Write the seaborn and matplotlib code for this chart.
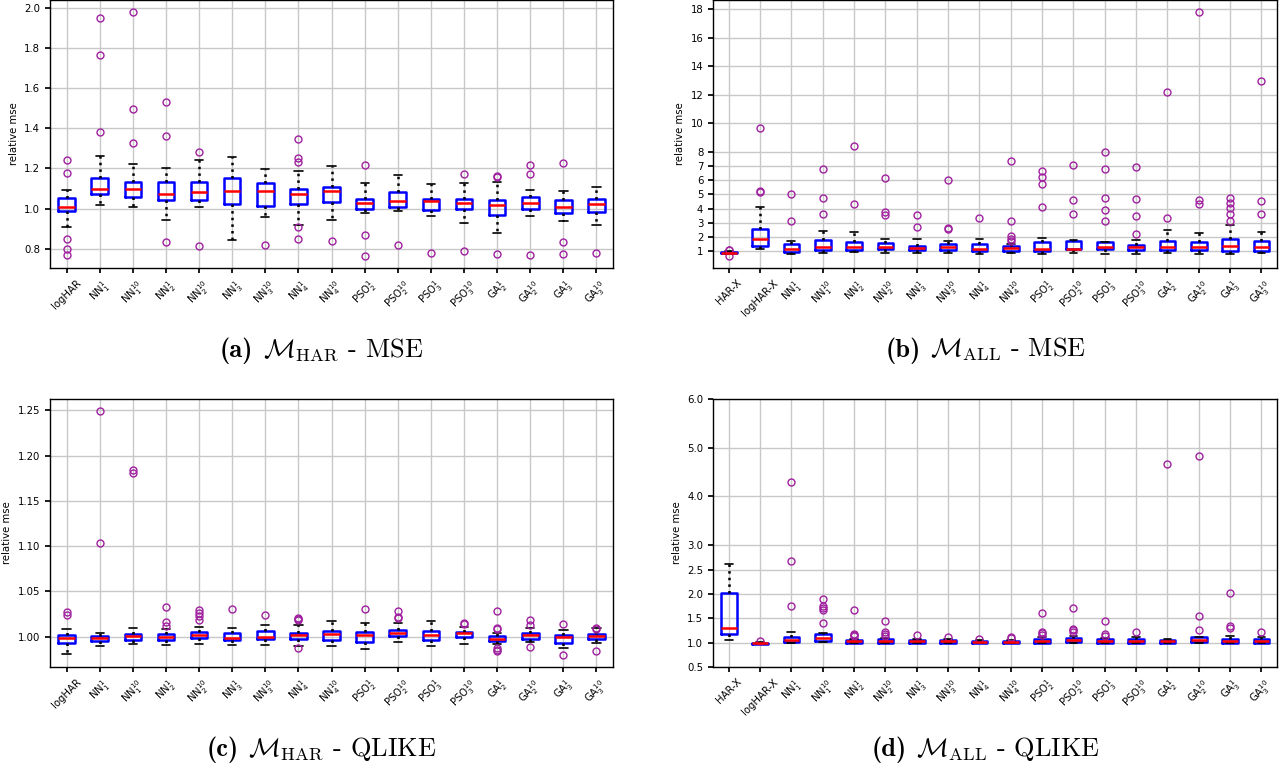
import matplotlib
matplotlib.use("Agg")
import matplotlib.pyplot as plt
from matplotlib.offsetbox import AnchoredOffsetbox, HPacker, TextArea
import seaborn as sns

# box labels
har_labels = ["logHAR",
              r"NN$_{1}^{1}$", r"NN$_{1}^{10}$", r"NN$_{2}^{1}$", r"NN$_{2}^{10}$",
              r"NN$_{3}^{1}$", r"NN$_{3}^{10}$", r"NN$_{4}^{1}$", r"NN$_{4}^{10}$",
              r"PSO$_{2}^{1}$", r"PSO$_{2}^{10}$", r"PSO$_{3}^{1}$", r"PSO$_{3}^{10}$",
              r"GA$_{2}^{1}$", r"GA$_{2}^{10}$", r"GA$_{3}^{1}$", r"GA$_{3}^{10}$"]
all_labels = ["HAR-X", "logHAR-X"] + har_labels[1:]

# (a) M_HAR - MSE
a_q1 = [0.988, 1.071, 1.056, 1.041, 1.041, 1.023, 1.015, 1.023, 1.035, 0.997, 1.007, 0.993, 0.997, 0.970, 1.000, 0.979, 0.985]
a_med = [1.008, 1.099, 1.099, 1.073, 1.084, 1.086, 1.086, 1.073, 1.088, 1.030, 1.036, 1.036, 1.030, 1.017, 1.028, 1.008, 1.021]
a_q3 = [1.055, 1.150, 1.131, 1.132, 1.132, 1.154, 1.129, 1.099, 1.109, 1.046, 1.084, 1.050, 1.050, 1.041, 1.060, 1.045, 1.050]
a_lo = [0.906, 1.020, 1.008, 0.945, 1.008, 0.845, 0.960, 0.919, 0.942, 0.980, 0.987, 0.962, 0.926, 0.878, 0.962, 0.939, 0.919]
a_hi = [1.093, 1.264, 1.223, 1.203, 1.241, 1.256, 1.195, 1.188, 1.212, 1.126, 1.167, 1.122, 1.129, 1.131, 1.093, 1.089, 1.106]
a_out = [[1.241, 1.179, 0.851, 0.798, 0.767], [1.950, 1.764, 1.383], [1.977, 1.493, 1.324],
         [1.531, 1.362, 0.836], [1.283, 0.813], [], [0.820], [1.347, 1.251, 1.233, 0.909, 0.851],
         [0.840], [1.218, 0.869, 0.765], [0.817], [0.780], [1.174, 0.790],
         [1.162, 1.155, 0.775], [1.215, 1.174, 0.769], [1.226, 0.836, 0.772], [0.777]]

# (b) M_ALL - MSE
b_q1 = [0.85, 1.37, 0.95, 1.09, 1.09, 1.14, 1.09, 1.09, 1.00, 1.05, 1.05, 1.14, 1.14, 1.09, 1.09, 1.09, 1.05, 1.05]
b_med = [0.90, 1.84, 1.14, 1.33, 1.33, 1.28, 1.26, 1.30, 1.19, 1.23, 1.19, 1.19, 1.33, 1.28, 1.28, 1.30, 1.35, 1.33]
b_q3 = [0.98, 2.54, 1.49, 1.77, 1.68, 1.56, 1.40, 1.49, 1.49, 1.40, 1.65, 1.72, 1.65, 1.44, 1.72, 1.63, 1.84, 1.72]
b_lo = [0.80, 1.19, 0.81, 0.91, 0.95, 0.86, 0.86, 0.86, 0.81, 0.86, 0.81, 0.86, 0.81, 0.81, 0.86, 0.81, 0.81, 0.86]
b_hi = [1.02, 4.10, 1.75, 2.40, 2.35, 1.86, 1.84, 1.70, 1.86, 1.51, 1.93, 1.82, 1.68, 1.77, 2.49, 2.28, 2.84, 2.35]
b_out = [[1.12, 1.06, 0.68], [9.64, 5.24, 5.15], [5.03, 3.14], [6.78, 4.73, 3.61], [8.38, 4.31],
         [6.15, 3.79, 3.56], [3.56, 2.70], [5.98, 2.65, 2.58], [3.35], [7.31, 3.10, 2.07, 1.88, 1.75],
         [6.64, 6.22, 5.73, 4.10], [7.05, 4.63, 3.65], [7.96, 6.78, 4.77, 3.89, 3.10],
         [6.89, 4.68, 3.47, 2.19], [12.2, 3.35], [17.8, 4.63, 4.31],
         [4.77, 4.40, 4.05, 3.61, 3.14], [12.99, 4.54, 3.61]]

# (c) M_HAR - QLIKE
c_q1 = [0.9926, 0.995, 0.996, 0.9967, 0.9982, 0.996, 0.9974, 0.9978, 0.9967, 0.9941, 1.0004, 0.996, 0.9996, 0.9949, 0.9978, 0.9934, 0.9974]
c_med = [0.9985, 0.999, 1.0004, 1.0, 1.0022, 0.9989, 1.0, 1.0015, 1.003, 1.0018, 1.004, 1.0022, 1.0044, 0.9974, 1.0015, 0.9996, 1.0004]
c_q3 = [1.0015, 1.001, 1.0026, 1.0026, 1.0048, 1.0044, 1.0063, 1.0037, 1.0063, 1.0048, 1.007, 1.0063, 1.0055, 1.0004, 1.004, 1.0015, 1.0026]
c_lo = [0.981, 0.9897, 0.9919, 0.9912, 0.9919, 0.9904, 0.9904, 0.9897, 0.9897, 0.9868, 0.9945, 0.9897, 0.9919, 0.9915, 0.9945, 0.9879, 0.993]
c_hi = [1.0088, 1.0044, 1.0096, 1.0088, 1.0107, 1.0096, 1.0129, 1.0129, 1.0169, 1.0154, 1.0151, 1.0173, 1.0107, 1.0037, 1.0099, 1.007, 1.0096]
c_out = [[1.027, 1.024], [1.249, 1.104], [1.184, 1.181], [1.033, 1.016, 1.012],
         [1.030, 1.026, 1.023, 1.019], [1.0305], [1.024], [1.021, 1.020, 1.019, 0.9875], [],
         [1.031], [1.028, 1.022, 1.021], [], [1.015, 1.014],
         [1.028, 1.010, 1.009, 0.9875, 0.9857, 0.9846], [1.019, 1.013, 0.9886],
         [1.0136, 0.980], [1.010, 1.009, 0.9846]]

# (d) M_ALL - QLIKE
d_q1 = [1.18, 0.975, 1.01, 1.03, 1.0, 1.0, 1.0, 1.0, 1.0, 1.0, 1.0, 1.01, 1.0, 1.0, 1.0, 1.01, 1.0, 1.0]
d_med = [1.30, 0.99, 1.05, 1.09, 1.03, 1.03, 1.03, 1.03, 1.02, 1.01, 1.03, 1.05, 1.03, 1.03, 1.03, 1.05, 1.03, 1.03]
d_q3 = [2.02, 1.0, 1.12, 1.18, 1.06, 1.07, 1.05, 1.05, 1.04, 1.04, 1.08, 1.10, 1.07, 1.07, 1.06, 1.12, 1.08, 1.07]
d_lo = [1.05, 0.97, 1.0, 1.01, 1.0, 1.0, 1.0, 1.0, 1.0, 1.0, 1.0, 1.0, 1.0, 1.0, 1.0, 1.0, 1.0, 1.0]
d_hi = [2.61, 1.02, 1.21, 1.20, 1.08, 1.10, 1.07, 1.07, 1.05, 1.05, 1.11, 1.14, 1.10, 1.11, 1.07, 1.12, 1.13, 1.11]
d_out = [[], [1.04], [4.30, 2.68, 1.76], [1.89, 1.76, 1.72, 1.67, 1.40], [1.68, 1.17, 1.16, 1.14],
         [1.44, 1.21, 1.18, 1.14], [1.16], [1.12], [1.07], [1.11, 1.09],
         [1.61, 1.22, 1.20, 1.16], [1.71, 1.28, 1.25, 1.22], [1.44, 1.17, 1.14], [1.22],
         [4.66], [4.84, 1.54, 1.27], [2.02, 1.35, 1.31], [1.22]]

b_ticks = [1, 2, 3, 4, 5, 6, 7, 8, 10, 12, 14, 16, 18]
d_ticks = [0.5, 1.0, 1.5, 2.0, 2.5, 3.0, 4.0, 5.0, 6.0]

sns.set_theme(style="whitegrid", rc={
    "axes.edgecolor": "black", "axes.linewidth": 1.0,
    "grid.color": "#c8c8c8", "grid.linewidth": 1.0,
    "xtick.bottom": True, "ytick.left": True,
    "xtick.color": "black", "ytick.color": "black",
    "xtick.major.size": 3.5, "ytick.major.size": 3.5,
    "xtick.labelsize": 7.3, "ytick.labelsize": 7.3, "axes.labelsize": 7.3,
    "text.color": "black", "axes.labelcolor": "black",
})
plt.rcParams["font.family"] = ["DejaVu Sans"]


def draw_box(ax, labels, q1, med, q3, lo, hi, out):
    stats = [dict(label=l, q1=a, med=m, q3=b, whislo=w1, whishi=w2, fliers=f)
             for l, a, m, b, w1, w2, f in zip(labels, q1, med, q3, lo, hi, out)]
    ax.bxp(stats, widths=0.5,
           boxprops=dict(color="blue", linewidth=1.8),
           medianprops=dict(color="red", linewidth=1.8),
           whiskerprops=dict(color="black", linestyle=":", linewidth=1.8),
           capprops=dict(color="black", linewidth=1.2),
           flierprops=dict(marker="o", markerfacecolor="none", markeredgecolor="#a020a0",
                           markersize=5, markeredgewidth=1.0))
    ax.grid(True, axis="both")
    ax.set_axisbelow(True)
    ax.set_ylabel("relative mse")
    ax.tick_params(axis="x", rotation=45)


fig = plt.figure(figsize=(12.82, 7.69), dpi=100)
ax_a = fig.add_axes([0.039, 0.6515, 0.4392, 0.3485])
ax_b = fig.add_axes([0.5562, 0.6515, 0.440, 0.3485])
ax_c = fig.add_axes([0.039, 0.1326, 0.4392, 0.3485])
ax_d = fig.add_axes([0.5562, 0.1326, 0.440, 0.3485])

draw_box(ax_a, har_labels, a_q1, a_med, a_q3, a_lo, a_hi, a_out)
draw_box(ax_b, all_labels, b_q1, b_med, b_q3, b_lo, b_hi, b_out)
ax_b.set_yticks(b_ticks)
draw_box(ax_c, har_labels, c_q1, c_med, c_q3, c_lo, c_hi, c_out)
draw_box(ax_d, all_labels, d_q1, d_med, d_q3, d_lo, d_hi, d_out)
ax_d.set_ylim(0.5, 6.0)
ax_d.set_yticks(d_ticks)
ax_d.set_yticklabels([f"{t:.1f}" for t in d_ticks])

# sub-figure captions: bold tag + model set + loss
captions = [(0.251, 0.545, "(a)", r"$\mathcal{M}_{\mathrm{HAR}}$ - MSE"),
            (0.769, 0.545, "(b)", r"$\mathcal{M}_{\mathrm{ALL}}$ - MSE"),
            (0.251, 0.026, "(c)", r"$\mathcal{M}_{\mathrm{HAR}}$ - QLIKE"),
            (0.769, 0.026, "(d)", r"$\mathcal{M}_{\mathrm{ALL}}$ - QLIKE")]
for x, y, tag, txt in captions:
    tag_box = TextArea(tag, textprops=dict(fontsize=19, fontfamily="cmb10", color="black"))
    txt_box = TextArea(txt, textprops=dict(fontsize=19, fontfamily="cmr10",
                                           math_fontfamily="cm", color="black"))
    pack = HPacker(children=[tag_box, txt_box], align="baseline", pad=0, sep=7)
    anchored = AnchoredOffsetbox(loc="center", child=pack, pad=0, frameon=False,
                                 bbox_to_anchor=(x, y), bbox_transform=fig.transFigure,
                                 borderpad=0)
    fig.add_artist(anchored)

fig.savefig("out.png", dpi=100)
